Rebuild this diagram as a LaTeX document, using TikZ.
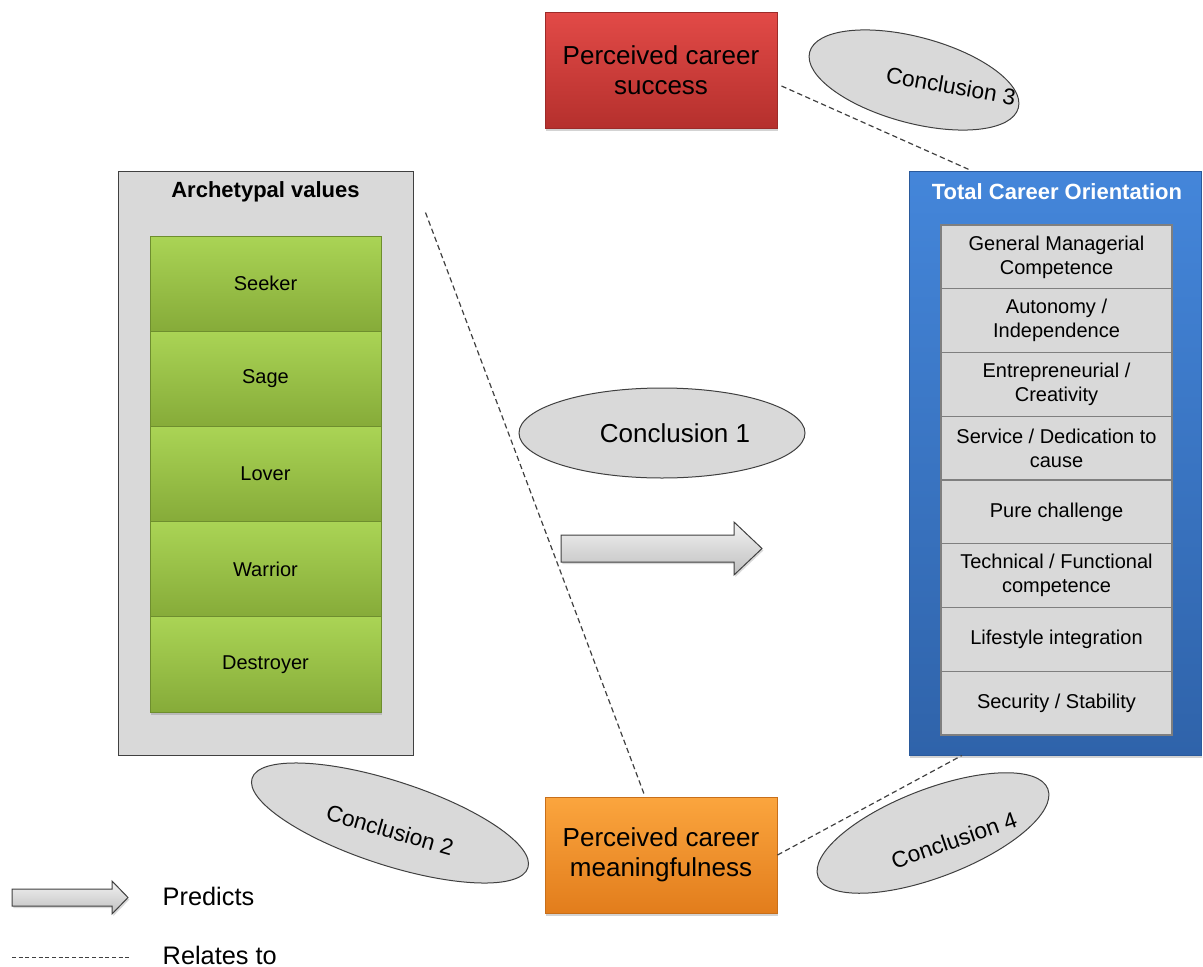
\documentclass[tikz,border=0pt]{standalone}
\usepackage{fontspec}
\setmainfont{Liberation Sans}
\usetikzlibrary{shapes.geometric,shadows,calc}

\definecolor{redTop}{HTML}{E24A47}
\definecolor{redBot}{HTML}{B5302D}
\definecolor{redLine}{HTML}{9C2B29}
\definecolor{orangeTop}{HTML}{FBA53E}
\definecolor{orangeBot}{HTML}{E27D1C}
\definecolor{orangeLine}{HTML}{C86F1A}
\definecolor{greenTop}{HTML}{AAD455}
\definecolor{greenBot}{HTML}{86AB39}
\definecolor{greenLine}{HTML}{6E8E2E}
\definecolor{blueTop}{HTML}{4486DA}
\definecolor{blueBot}{HTML}{2F63AA}
\definecolor{blueLine}{HTML}{2A5A9C}
\definecolor{paleGray}{HTML}{D9D9D9}
\definecolor{midGray}{HTML}{7F7F7F}
\definecolor{darkGray}{HTML}{404040}

\tikzset{
  boxshadow/.style={drop shadow={opacity=0.35,shadow xshift=1pt,shadow yshift=-2pt}},
  bigbox/.style={rectangle, draw, line width=0.75pt, minimum width=174pt, minimum height=87pt,
    align=center, font=\fontsize{19.5}{22.5}\selectfont, boxshadow},
  redbox/.style={bigbox, draw=redLine, top color=redTop, bottom color=redBot},
  orangebox/.style={bigbox, draw=orangeLine, top color=orangeTop, bottom color=orangeBot},
  archbox/.style={rectangle, draw=darkGray, fill=paleGray, line width=0.75pt,
    minimum width=221.25pt, minimum height=438pt},
  bluebox/.style={rectangle, draw=blueLine, top color=blueTop, bottom color=blueBot,
    line width=0.75pt, minimum width=219pt, minimum height=438pt, boxshadow},
  greenbox/.style={rectangle, draw=greenLine, top color=greenTop, bottom color=greenBot,
    line width=0.75pt, minimum width=173.25pt, minimum height=71.4pt,
    font=\fontsize{15}{18}\selectfont, boxshadow},
  rowbox/.style={rectangle, draw=midGray, fill=paleGray, line width=0.9pt,
    minimum width=173.25pt, minimum height=47.8pt, align=center,
    font=\fontsize{15}{18}\selectfont},
  headtext/.style={font=\bfseries\fontsize{16.5}{19}\selectfont},
  concl/.style={ellipse, draw=darkGray, fill=paleGray, line width=0.75pt, inner sep=0pt},
  concltext/.style={font=\fontsize{17}{20}\selectfont},
  relates/.style={draw=darkGray, line width=0.9pt, dash pattern=on 4pt off 2.5pt},
  predicts/.style={draw=darkGray, line width=0.75pt, top color=white!95!black, bottom color=black!25,
    drop shadow={opacity=0.3,shadow xshift=1pt,shadow yshift=-1.5pt}},
  legendtext/.style={font=\fontsize{19}{22}\selectfont, anchor=west},
}

\begin{document}
\begin{tikzpicture}[x=0.75pt,y=-0.75pt]
\useasboundingbox (0,0) rectangle (1203,967);

% outcome boxes
\node[redbox] (success) at (661,70) {Perceived career\\success};
\node[orangebox] (meaning) at (661,855) {Perceived career\\meaningfulness};

% archetypal values column
\node[archbox] (arch) at (265.5,463) {};
\node[headtext] (archtitle) at (265.5,192) {Archetypal values};
\node[greenbox] (seeker)    at (265.5,283.6) {Seeker};
\node[greenbox] (sage)      at (265.5,378.8) {Sage};
\node[greenbox] (lover)     at (265.5,474.0) {Lover};
\node[greenbox] (warrior)   at (265.5,569.2) {Warrior};
\node[greenbox] (destroyer) at (265.5,664.4) {Destroyer};

% total career orientation column
\node[bluebox] (tco) at (1055,463) {};
\node[headtext, text=white] (tcotitle) at (1057,192) {Total Career Orientation};
\node[rowbox] (r1) at (1056.5,256.9) {General Managerial\\Competence};
\node[rowbox] (r2) at (1056.5,320.6) {Autonomy /\\Independence};
\node[rowbox] (r3) at (1056.5,384.4) {Entrepreneurial /\\Creativity};
\node[rowbox] (r4) at (1056.5,448.1) {Service / Dedication to\\cause};
\node[rowbox] (r5) at (1056.5,511.9) {Pure challenge};
\node[rowbox] (r6) at (1056.5,575.6) {Technical / Functional\\competence};
\node[rowbox] (r7) at (1056.5,639.4) {Lifestyle integration};
\node[rowbox] (r8) at (1056.5,703.1) {Security / Stability};

% conclusions
\node[concl, minimum width=214.5pt, minimum height=67.5pt] (e1) at (662,433) {};
\node[concltext, font=\fontsize{19.5}{22}\selectfont] (c1) at (675,433) {Conclusion 1};
\node[concl, minimum width=162pt, minimum height=64.5pt, rotate=-15] (e3) at (914,80) {};
\node[concltext, rotate=-10] (c3) at (951,86) {Conclusion 3};
\node[concl, minimum width=217.5pt, minimum height=63pt, rotate=-18] (e2) at (390,823) {};
\node[concltext, rotate=-16] (c2) at (390,830) {Conclusion 2};
\node[concl, minimum width=184.5pt, minimum height=66pt, rotate=21] (e4) at (933,833) {};
\node[concltext, rotate=19] (c4) at (954,840) {Conclusion 4};

% relations
\coordinate (archtip) at ($(arch.north east)+(12,42)$);
\draw[relates] ([yshift=-12pt]success.east) ++(4,0) -- ([xshift=47pt]tco.north west);
\draw[relates] (archtip) -- ([xshift=-12pt]meaning.north);
\draw[relates] (meaning.east) -- ([xshift=40pt]tco.south west);

% prediction arrow
\draw[predicts] (561,535) -- (734,535) -- (734,522) -- (762,548.5) -- (734,575)
  -- (734,562) -- (561,562) -- cycle;

% legend
\draw[predicts] (12,889) -- (112,889) -- (112,881) -- (128,897.5) -- (112,914)
  -- (112,906) -- (12,906) -- cycle;
\node[legendtext] (lp) at (158,896) {Predicts};
\coordinate (ldash1) at (12,957);
\coordinate (ldash2) at (130,957);
\draw[draw=darkGray, line width=0.75pt, dash pattern=on 3pt off 2pt] (ldash1) -- (ldash2);
\node[legendtext] (lr) at (158,955) {Relates to};
\end{tikzpicture}
\end{document}
